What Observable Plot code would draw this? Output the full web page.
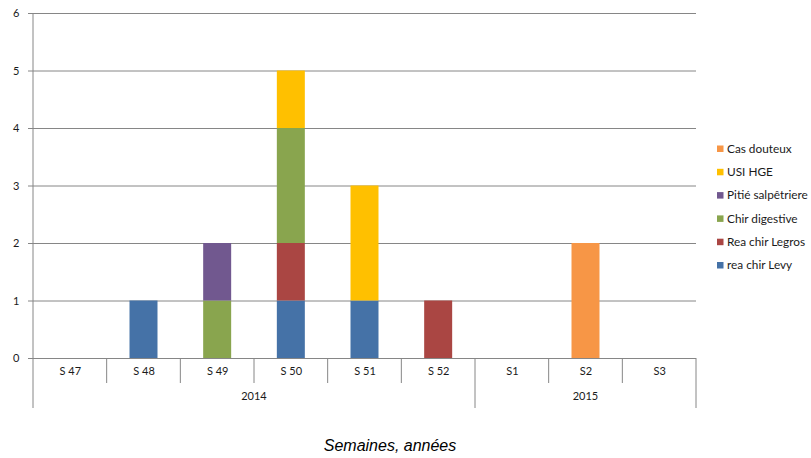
<!DOCTYPE html>
<html><head><meta charset="utf-8">
<script src="https://cdn.jsdelivr.net/npm/d3@7"></script>
<script src="https://cdn.jsdelivr.net/npm/@observablehq/plot@0.6"></script>
<style>body{margin:0;background:#fff}</style>
</head><body><div id="chart"></div>
<script>
const weeks = ["S 47","S 48","S 49","S 50","S 51","S 52","S1","S2","S3"];
const years = ["2014","2014","2014","2014","2014","2014","2015","2015","2015"];
const seriesNames = ["rea chir Levy","Rea chir Legros","Chir digestive","Pitié salpêtriere","USI HGE","Cas douteux"];
const seriesColors = ["#4572A7","#AA4643","#89A54E","#71588F","#FFC000","#F79646"];
const reaChirLevy      = [0,1,0,1,1,0,0,0,0];
const reaChirLegros    = [0,0,0,1,0,1,0,0,0];
const chirDigestive    = [0,0,1,2,0,0,0,0,0];
const pitieSalpetriere = [0,0,1,0,0,0,0,0,0];
const usiHge           = [0,0,0,1,2,0,0,0,0];
const casDouteux       = [0,0,0,0,0,0,0,2,0];
const yTicks = [0,1,2,3,4,5,6];
const xTitle = "Semaines, années";

const seriesValues = [reaChirLevy, reaChirLegros, chirDigestive, pitieSalpetriere, usiHge, casDouteux];
const rows = [];
seriesValues.forEach((vals, si) => vals.forEach((v, wi) => {
  if (v > 0) rows.push({week: weeks[wi], series: seriesNames[si], value: v});
}));

const gray = "#868686";
const font = "Lato, 'Open Sans', sans-serif";

const chart = Plot.plot({
  width: 811, height: 458,
  marginLeft: 33, marginRight: 115, marginTop: 13, marginBottom: 100,
  style: {fontFamily: font, fontSize: "11px", color: "#1a1a1a", background: "#fff"},
  x: {domain: weeks, paddingInner: 0.62, paddingOuter: 0.31, round: false, label: null},
  y: {domain: [0, 6], label: null},
  color: {domain: seriesNames, range: seriesColors},
  marks: [
    Plot.gridY(yTicks.slice(1), {stroke: gray, strokeOpacity: 1}),
    Plot.barY(rows, {x: "week", y: "value", fill: "series", order: seriesNames}),
    Plot.axisY(yTicks, {tickSize: 5, tickPadding: 9, stroke: gray, strokeOpacity: 1, tickFormat: d => String(d)}),
    Plot.axisX({tickSize: 0, tickPadding: 9}),
    Plot.ruleY([0], {stroke: gray})
  ]
});

const svg = d3.select(chart);
const xs = chart.scale("x");
const ys = chart.scale("y");
const step = xs.step, bw = xs.bandwidth;
const center = w => xs.apply(w) + bw / 2;
const y0 = ys.apply(0), yTop = ys.apply(6);
const g = svg.append("g").attr("stroke", gray).attr("fill", "none");
const leftEdge = center(weeks[0]) - step / 2;
const rightEdge = center(weeks[weeks.length - 1]) + step / 2;
g.append("line").attr("x1", leftEdge).attr("x2", leftEdge).attr("y1", yTop).attr("y2", y0 + 50);
weeks.forEach((w, i) => {
  if (i === 0) return;
  const bx = center(w) - step / 2;
  const yearBreak = years[i] !== years[i - 1];
  g.append("line").attr("x1", bx).attr("x2", bx).attr("y1", y0).attr("y2", y0 + (yearBreak ? 50 : 25));
});
g.append("line").attr("x1", rightEdge).attr("x2", rightEdge).attr("y1", y0).attr("y2", y0 + 50);
const uniqYears = [...new Set(years)];
uniqYears.forEach(yr => {
  const idx = years.map((y, i) => y === yr ? i : -1).filter(i => i >= 0);
  const a = center(weeks[idx[0]]) - step / 2, b = center(weeks[idx[idx.length - 1]]) + step / 2;
  svg.append("text").attr("x", (a + b) / 2).attr("y", y0 + 42)
    .attr("text-anchor", "middle").attr("font-family", font).attr("font-size", 11).attr("fill", "#1a1a1a").text(yr);
});
svg.append("text").attr("x", 390).attr("y", 451).attr("text-anchor", "middle")
  .attr("font-family", "'Liberation Sans', Arial, sans-serif").attr("font-style", "italic")
  .attr("font-size", 16).attr("fill", "#000").text(xTitle);
const leg = svg.append("g").attr("font-family", font).attr("font-size", 11.8).attr("text-anchor", "start");
[...seriesNames].reverse().forEach((s, i) => {
  const ly = 148.5 + i * 23.3;
  const ci = seriesNames.indexOf(s);
  leg.append("rect").attr("x", 717).attr("y", ly - 3).attr("width", 6.5).attr("height", 6.5).attr("fill", seriesColors[ci]);
  leg.append("text").attr("x", 727).attr("y", ly).attr("dy", "0.35em").attr("fill", "#1a1a1a").text(s);
});
document.getElementById("chart").append(chart);
</script>
</body></html>
